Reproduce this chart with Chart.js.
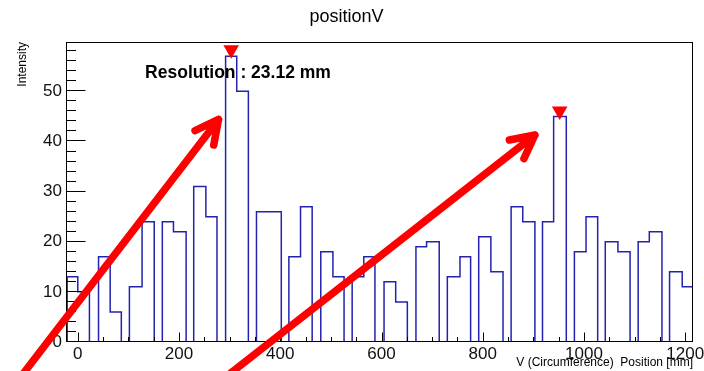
<!DOCTYPE html>
<html>
<head>
<meta charset="utf-8">
<title>positionV</title>
<script src="https://cdn.jsdelivr.net/npm/chart.js@4.4.1/dist/chart.umd.min.js"></script>
<style>
  html, body { margin: 0; padding: 0; background: #fff; }
  canvas { display: block; }
</style>
</head>
<body>
<canvas id="hist" width="704" height="371"></canvas>
<script>
    // Histogram data (bin edges in mm, counts per strip)
    const binLow  = [-21, 0, 41, 64, 102, 127, 167, 189, 229, 253, 292, 314, 353, 377, 417, 440, 480, 504, 542, 565,
                     605, 628, 668, 689, 730, 755, 792, 816, 856, 879, 918, 940, 981, 1004, 1042, 1067, 1107, 1129, 1169, 1194];
    const binHigh = [0, 23, 64, 86, 127, 151, 189, 214, 253, 275, 314, 337, 377, 402, 440, 463, 504, 526, 565, 587,
                     628, 651, 689, 714, 755, 776, 816, 840, 879, 903, 940, 965, 1004, 1027, 1067, 1091, 1129, 1154, 1194, 1215];
    const counts  = [13, 10, 17, 6, 11, 24, 24, 22, 31, 25, 57, 50, 26, 26, 17, 27, 18, 13, 13, 17,
                     12, 8, 19, 20, 13, 17, 21, 14, 27, 24, 24, 45, 18, 25, 20, 18, 20, 22, 14, 11];

    // Peak markers found by the spectrum search
    const peakX = [303, 952];
    const peakY = [58.3, 46.1];

    // Axes
    const xMin = -21.3, xMax = 1215.3;
    const yMin = 0, yMax = 59.85;
    const xTicks = [0, 200, 400, 600, 800, 1000, 1200];
    const yTicks = [0, 10, 20, 30, 40, 50];
    const xMinorStep = 50, yMinorStep = 2;

    // Hand-drawn annotations (data units)
    const arrows = [
      { from: [-110, -6.6], to: [278, 44.4] },
      { from: [297, -6.6], to: [903, 41.3] }
    ];
    const resolutionText = 'Resolution : 23.12 mm';
    const resolutionPos = [133, 52.7];

    const FONT = '"Liberation Sans", Arial, Helvetica, sans-serif';
    Chart.defaults.font.family = FONT;
    Chart.defaults.color = '#000';

    // Build the ROOT-style step outline
    function buildOutline() {
      const pts = [{ x: binLow[0], y: 0 }];
      counts.forEach((c, i) => {
        if (i > 0 && binLow[i] !== binHigh[i - 1]) {
          pts.push({ x: binHigh[i - 1], y: 0 });
          pts.push({ x: binLow[i], y: 0 });
        }
        pts.push({ x: binLow[i], y: c });
        pts.push({ x: binHigh[i], y: c });
      });
      pts.push({ x: binHigh[binHigh.length - 1], y: 0 });
      return pts;
    }

    // Frame, inward ticks, arrows and label
    const rootDecor = {
      id: 'rootDecor',
      afterDatasetsDraw(chart) {
        const { ctx, chartArea: a, scales: { x, y } } = chart;
        ctx.save();
        ctx.strokeStyle = '#000';
        ctx.lineWidth = 1;
        ctx.beginPath();
        const bx = Math.round(a.bottom) - 0.5;
        const lx = Math.round(a.left) - 0.5;
        for (let v = 0; v <= xMax; v += xMinorStep) {
          const px = Math.round(x.getPixelForValue(v)) + 0.5;
          const len = xTicks.includes(v) ? 9 : 4.5;
          ctx.moveTo(px, bx);
          ctx.lineTo(px, bx - len);
        }
        for (let v = 0; v <= yMax; v += yMinorStep) {
          const py = Math.round(y.getPixelForValue(v)) - 0.5;
          const len = yTicks.includes(v) ? 19 : 9.5;
          ctx.moveTo(lx, py);
          ctx.lineTo(lx + len, py);
        }
        ctx.stroke();
        ctx.strokeRect(lx, Math.round(a.top) + 0.5, Math.round(a.right) - lx - 0.5, bx - Math.round(a.top) - 0.5);
        ctx.restore();
      },
      afterDraw(chart) {
        const { ctx, scales: { x, y } } = chart;
        ctx.save();
        ctx.fillStyle = '#000';
        ctx.font = 'bold 17.5px ' + FONT;
        ctx.textBaseline = 'alphabetic';
        ctx.fillText(resolutionText, x.getPixelForValue(resolutionPos[0]), y.getPixelForValue(resolutionPos[1]));

        ctx.strokeStyle = '#ff0000';
        ctx.lineWidth = 7.5;
        ctx.lineCap = 'round';
        ctx.lineJoin = 'round';
        arrows.forEach(ar => {
          const x0 = x.getPixelForValue(ar.from[0]), y0 = y.getPixelForValue(ar.from[1]);
          const x1 = x.getPixelForValue(ar.to[0]), y1 = y.getPixelForValue(ar.to[1]);
          const back = Math.atan2(y0 - y1, x0 - x1);
          const head = 26, spread = 27 * Math.PI / 180;
          ctx.beginPath();
          ctx.moveTo(x0, y0);
          ctx.lineTo(x1, y1);
          ctx.moveTo(x1 + head * Math.cos(back + spread), y1 + head * Math.sin(back + spread));
          ctx.lineTo(x1, y1);
          ctx.lineTo(x1 + head * Math.cos(back - spread), y1 + head * Math.sin(back - spread));
          ctx.stroke();
        });
        ctx.restore();
      }
    };

    new Chart(document.getElementById('hist'), {
      type: 'line',
      data: {
        datasets: [
          {
            label: 'peaks',
            type: 'scatter',
            data: peakX.map((v, i) => ({ x: v, y: peakY[i] })),
            pointStyle: 'triangle',
            rotation: 180,
            pointRadius: 9,
            pointBackgroundColor: '#ff0000',
            pointBorderColor: '#ff0000',
            pointBorderWidth: 0,
            clip: false
          },
          {
            label: 'positionV',
            data: buildOutline(),
            borderColor: '#2323b0',
            borderWidth: 1.5,
            pointRadius: 0,
            tension: 0,
            fill: false
          }
        ]
      },
      options: {
        responsive: false,
        animation: false,
        devicePixelRatio: 1,
        layout: { padding: { left: 0, right: 11, top: 0, bottom: 0 } },
        plugins: {
          legend: { display: false },
          tooltip: { enabled: false },
          title: {
            display: true,
            text: 'positionV',
            color: '#000',
            font: { size: 18, weight: 'normal' },
            padding: { top: 6, bottom: 14.4 }
          }
        },
        scales: {
          x: {
            type: 'linear',
            min: xMin,
            max: xMax,
            grid: { display: false, drawTicks: false },
            border: { display: false },
            ticks: { font: { size: 17 }, color: '#111', padding: 2, maxRotation: 0, autoSkip: false, callback: v => String(v) },
            afterBuildTicks: s => { s.ticks = xTicks.map(v => ({ value: v })); },
            afterFit: s => { s.height = 29; s.paddingLeft = 0; s.paddingRight = 0; },
            title: { display: true, text: 'V (Circumference)  Position [mm]', align: 'end', font: { size: 12 }, padding: { top: 0, bottom: 0.8 } }
          },
          y: {
            type: 'linear',
            min: yMin,
            max: yMax,
            grid: { display: false, drawTicks: false },
            border: { display: false },
            ticks: { font: { size: 17 }, color: '#111', padding: 5, callback: v => String(v) },
            afterBuildTicks: s => { s.ticks = yTicks.map(v => ({ value: v })); },
            afterFit: s => { s.width = 67; s.paddingTop = 0; s.paddingBottom = 0; },
            title: { display: true, text: 'Intensity', align: 'end', font: { size: 12 }, padding: { top: 15.5, bottom: 0 } }
          }
        }
      },
      plugins: [rootDecor]
    });
</script>
</body>
</html>
